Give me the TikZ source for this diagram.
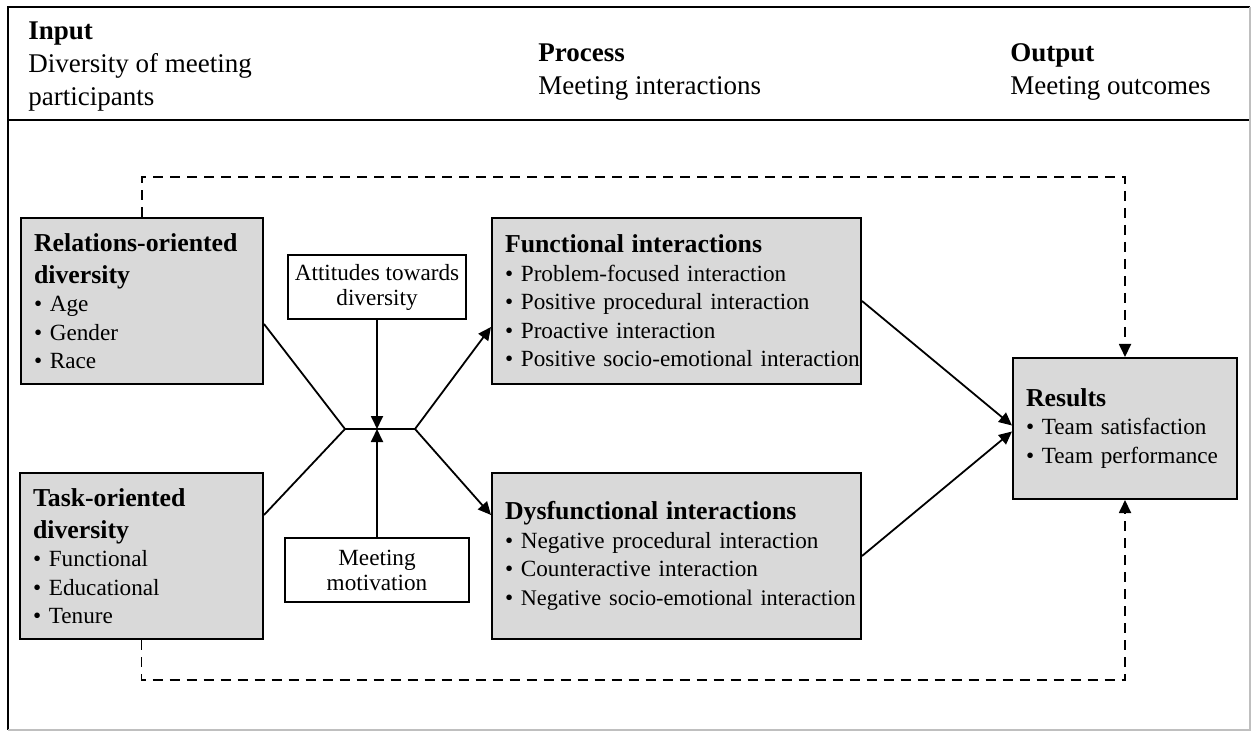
\documentclass[tikz,border=0pt]{standalone}
\usepackage{fontspec}
\setmainfont{Liberation Serif}
\usepackage{xcolor}
\usepackage{tikz}
\usetikzlibrary{arrows.meta}

\definecolor{boxgray}{RGB}{217,217,217}
\newcommand{\itm}[1]{\mbox{\textbullet\ #1}}
\newcommand{\ttl}[1]{{\fontsize{12.9}{14.25}\selectfont\bfseries #1}}

\begin{document}
\begin{tikzpicture}[x=0.5pt, y=-0.5pt,
        factor/.style={draw, line width=1pt, fill=boxgray, align=left, inner xsep=6.5pt, inner ysep=0pt, font=\fontsize{11.6}{14.25}\selectfont},
        moderator/.style={draw, line width=1pt, fill=white, align=center, inner sep=0pt, font=\fontsize{11.6}{12.5}\selectfont},
        heading/.style={anchor=north west, align=left, inner sep=0pt, font=\fontsize{13.5}{16.5}\selectfont},
        link/.style={line width=0.9pt},
        feedback/.style={line width=0.9pt, dash pattern=on 5pt off 3.5pt},
        >={Triangle[length=6.5pt, width=6pt]}]
        \useasboundingbox (0,0) rectangle (1252,732);

        % frame and header
        \draw[line width=1pt] (1250,7) -- (8,7) -- (8,730);
        \draw[line width=1pt] (8,120) -- (1250,120);
        \draw[gray!50, line width=0.6pt] (1250,7) -- (1250,730) -- (8,730);
        \node[heading] (input) at (28,21) {\textbf{Input}\\ Diversity of meeting\\ participants};
        \node[heading] (process) at (538,43) {\textbf{Process}\\ Meeting interactions};
        \node[heading] (output) at (1010,43) {\textbf{Output}\\ Meeting outcomes};

        % boxes
        \node[factor, text width=108pt, minimum height=83pt] (rel) at (142,301) {\ttl{Relations-oriented\\[1.75pt] diversity}\\ \itm{Age}\\ \itm{Gender}\\ \itm{Race}};
        \node[factor, text width=108.5pt, minimum height=83pt] (task) at (141.5,556) {\ttl{Task-oriented\\[1.75pt] diversity}\\ \itm{Functional}\\ \itm{Educational}\\ \itm{Tenure}};
        \node[moderator, minimum width=89pt, minimum height=32pt] (att) at (377,287) {Attitudes towards\\ diversity};
        \node[moderator, minimum width=92pt, minimum height=32pt] (mot) at (377,570) {Meeting\\ motivation};
        \node[factor, text width=171.5pt, minimum height=83pt] (fun) at (676.5,301) {\ttl{Functional interactions}\\ \itm{Problem-focused interaction}\\ \itm{Positive procedural interaction}\\ \itm{Proactive interaction}\\ \itm{Positive socio-emotional interaction}};
        \node[factor, text width=171.5pt, minimum height=83pt] (dys) at (676.5,556) {\ttl{Dysfunctional interactions}\\ \itm{Negative procedural interaction}\\ \itm{Counteractive interaction}\\ \itm{\fontsize{11.15}{14.25}\selectfont Negative socio-emotional interaction}};
        \node[factor, text width=99pt, minimum height=70.5pt] (res) at (1125,428.5) {\ttl{Results}\\ \itm{Team satisfaction}\\ \itm{Team performance}};

        \coordinate (hubL) at (345,429);
        \coordinate (hub) at (377,429);
        \coordinate (hubR) at (415,429);

        % connectors
        \draw[link] ([yshift=-11.5pt]rel.east) -- (hubL) -- (hubR);
        \draw[link] ([yshift=20.5pt]task.east) -- (hubL);
        \draw[link, ->] (att) -- (hub);
        \draw[link, ->] (mot) -- (hub);
        \draw[link, ->] (hubR) -- ([yshift=-13pt]fun.west);
        \draw[link, ->] (hubR) -- ([yshift=20.5pt]dys.west);
        \draw[link, ->] (fun.east) -- ([yshift=1.5pt]res.west);
        \draw[link, ->] (dys.east) -- ([yshift=-1.5pt]res.west);
        \draw[feedback, ->] (rel.north) -- ++(0,-40) -| (res.north);
        \draw[feedback, ->] (task.south) -- ++(0,40) -| (res.south);
\end{tikzpicture}
\end{document}
